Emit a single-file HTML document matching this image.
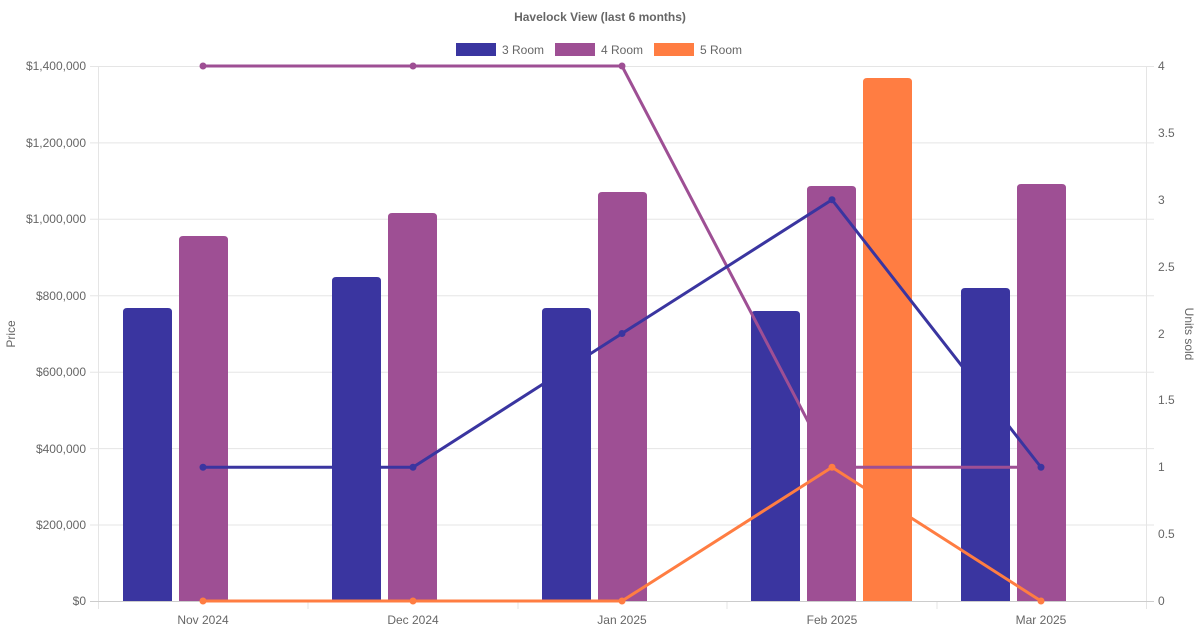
<!DOCTYPE html>
<html><head><meta charset="utf-8"><style>body{margin:0;background:#fff}svg{display:block;font-family:"Liberation Sans",sans-serif}</style></head><body>
<svg width="1200" height="630" viewBox="0 0 1200 630">
<defs>
<g id="b3">
<path d="M123,601V312q0,-4 4,-4h41q4,0 4,4V601z"/>
<path d="M332,601V281q0,-4 4,-4h41q4,0 4,4V601z"/>
<path d="M542,601V312q0,-4 4,-4h41q4,0 4,4V601z"/>
<path d="M751,601V315q0,-4 4,-4h41q4,0 4,4V601z"/>
<path d="M961,601V292q0,-4 4,-4h41q4,0 4,4V601z"/>
</g>
<g id="b4">
<path d="M179,601V240q0,-4 4,-4h41q4,0 4,4V601z"/>
<path d="M388,601V217q0,-4 4,-4h41q4,0 4,4V601z"/>
<path d="M598,601V196q0,-4 4,-4h41q4,0 4,4V601z"/>
<path d="M807,601V190q0,-4 4,-4h41q4,0 4,4V601z"/>
<path d="M1017,601V188q0,-4 4,-4h41q4,0 4,4V601z"/>
</g>
<g id="b5"><path d="M863,601V82q0,-4 4,-4h41q4,0 4,4V601z"/></g>
<mask id="m3" maskUnits="userSpaceOnUse" x="0" y="0" width="1200" height="630"><rect width="1200" height="630" fill="#fff"/><use href="#b3" fill="#000"/></mask>
<mask id="m4" maskUnits="userSpaceOnUse" x="0" y="0" width="1200" height="630"><rect width="1200" height="630" fill="#fff"/><use href="#b4" fill="#000"/></mask>
<mask id="m5" maskUnits="userSpaceOnUse" x="0" y="0" width="1200" height="630"><rect width="1200" height="630" fill="#fff"/><use href="#b5" fill="#000"/></mask>
</defs>
<text x="600" y="21" text-anchor="middle" font-size="12" font-weight="bold" fill="#666">Havelock View (last 6 months)</text>
<rect x="456" y="43" width="40" height="13" fill="#3a35a0"/><text x="502" y="54" font-size="12" fill="#666">3 Room</text>
<rect x="555" y="43" width="40" height="13" fill="#9e4f94"/><text x="601" y="54" font-size="12" fill="#666">4 Room</text>
<rect x="654" y="43" width="40" height="13" fill="#ff7d42"/><text x="700" y="54" font-size="12" fill="#666">5 Room</text>
<g stroke="#e5e5e5" stroke-width="1">
<line x1="90" y1="66.5" x2="1154" y2="66.5"/><line x1="90" y1="142.9" x2="1154" y2="142.9"/><line x1="90" y1="219.3" x2="1154" y2="219.3"/><line x1="90" y1="295.8" x2="1154" y2="295.8"/><line x1="90" y1="372.2" x2="1154" y2="372.2"/><line x1="90" y1="448.6" x2="1154" y2="448.6"/><line x1="90" y1="525" x2="1154" y2="525"/>
<line x1="98.5" y1="66" x2="98.5" y2="609"/><line x1="1146.5" y1="66" x2="1146.5" y2="609"/>
<line x1="308" y1="601" x2="308" y2="609"/><line x1="518" y1="601" x2="518" y2="609"/><line x1="727" y1="601" x2="727" y2="609"/><line x1="937" y1="601" x2="937" y2="609"/>
</g>
<line x1="90" y1="601.5" x2="1154" y2="601.5" stroke="#ccc"/>
<g font-size="12" fill="#666" text-anchor="end">
<text x="86" y="70">$1,400,000</text><text x="86" y="147">$1,200,000</text><text x="86" y="223">$1,000,000</text><text x="86" y="300">$800,000</text><text x="86" y="376">$600,000</text><text x="86" y="453">$400,000</text><text x="86" y="529">$200,000</text><text x="86" y="605">$0</text>
</g>
<g font-size="12" fill="#666">
<text x="1158" y="70">4</text><text x="1158" y="137">3.5</text><text x="1158" y="204">3</text><text x="1158" y="271">2.5</text><text x="1158" y="338">2</text><text x="1158" y="404">1.5</text><text x="1158" y="471">1</text><text x="1158" y="538">0.5</text><text x="1158" y="605">0</text>
</g>
<g font-size="12" fill="#666" text-anchor="middle">
<text x="203" y="624">Nov 2024</text><text x="413" y="624">Dec 2024</text><text x="622" y="624">Jan 2025</text><text x="832" y="624">Feb 2025</text><text x="1041" y="624">Mar 2025</text>
</g>
<text transform="translate(15,334) rotate(-90)" text-anchor="middle" font-size="12" fill="#666">Price</text>
<text transform="translate(1185,334) rotate(90)" text-anchor="middle" font-size="12" fill="#666">Units sold</text>
<use href="#b3" fill="#3a35a0"/>
<use href="#b4" fill="#9e4f94"/>
<use href="#b5" fill="#ff7d42"/>
<g mask="url(#m5)">
<polyline fill="none" stroke-width="3" stroke="#ff7d42" points="203,601 413,601 622,601 832,467.25 1041,601"/>
<g fill="#ff7d42"><circle cx="203" cy="601" r="3.5"/><circle cx="413" cy="601" r="3.5"/><circle cx="622" cy="601" r="3.5"/><circle cx="832" cy="467.25" r="3.5"/><circle cx="1041" cy="601" r="3.5"/></g>
</g>
<g mask="url(#m4)">
<polyline fill="none" stroke-width="3" stroke="#9e4f94" points="203,66 413,66 622,66 832,467.25 1041,467.25"/>
<g fill="#9e4f94"><circle cx="203" cy="66" r="3.5"/><circle cx="413" cy="66" r="3.5"/><circle cx="622" cy="66" r="3.5"/></g>
</g>
<g mask="url(#m3)">
<polyline fill="none" stroke-width="3" stroke="#3a35a0" points="203,467.25 413,467.25 622,333.5 832,199.75 1041,467.25"/>
<g fill="#3a35a0"><circle cx="203" cy="467.25" r="3.5"/><circle cx="413" cy="467.25" r="3.5"/><circle cx="622" cy="333.5" r="3.5"/><circle cx="832" cy="199.75" r="3.5"/><circle cx="1041" cy="467.25" r="3.5"/></g>
</g>
</svg>
</body></html>
